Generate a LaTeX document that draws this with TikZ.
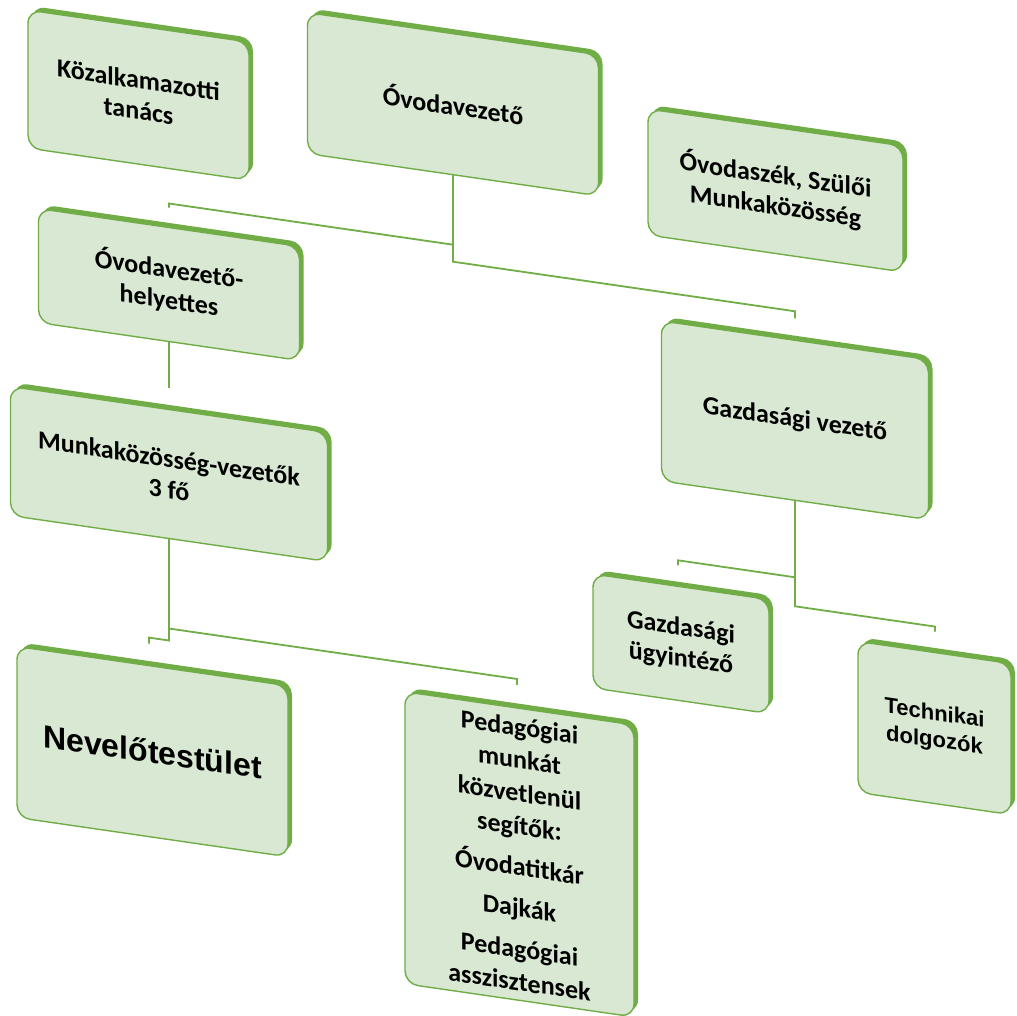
\documentclass[tikz,border=0pt]{standalone}
\usepackage{fontspec}
\setmainfont{Carlito}
\newfontfamily\arialfont{Liberation Sans}
\usetikzlibrary{shadows}
\definecolor{gfill}{RGB}{217,232,210}
\definecolor{gline}{RGB}{112,173,71}
\begin{document}
\begin{tikzpicture}[x=1pt,y=-1pt,
  orgbox/.style={draw=gline, line width=1.4pt, fill=gfill, rounded corners=13pt,
    align=center, inner sep=0pt, text=black,
    font=\fontsize{26}{31}\selectfont\bfseries,
    general shadow={shadow xshift=4pt, shadow yshift=4pt, fill=gline}},
  conn/.style={draw=gline, line width=1.8pt}]
\fill[white] (0,0) rectangle (1017,1015);
\useasboundingbox (0,0) rectangle (1017,1015);
\begin{scope}[yslant=-0.145, transform shape]
\node[orgbox, minimum width=221pt, minimum height=138pt] (kt) at (138.5,75) {Közalkamazotti\\tanács};
\node[orgbox, minimum width=291pt, minimum height=141pt] (ov) at (453,38.5) {Óvodavezető};
\node[orgbox, minimum width=255pt, minimum height=126pt] (osz) at (775.5,78) {Óvodaszék, Szülői\\Munkaközösség};
\node[orgbox, minimum width=261pt, minimum height=114pt] (ovh) at (169,260) {Óvodavezető-\\helyettes};
\node[orgbox, minimum width=317pt, minimum height=129pt] (mk) at (169,449.5) {Munkaközösség-vezetők\\3 fő};
\node[orgbox, minimum width=267pt, minimum height=160pt] (gv) at (795,305) {Gazdasági vezető};
\node[orgbox, minimum width=176pt, minimum height=114pt] (gu) at (681,545) {Gazdasági\\ügyintéző};
\node[orgbox, minimum width=153pt, minimum height=151pt, font=\arialfont\fontsize{22}{27}\selectfont\bfseries] (tech) at (934.5,592.5) {Technikai\\dolgozók};
\node[orgbox, minimum width=271pt, minimum height=171pt, font=\arialfont\fontsize{32}{38}\selectfont\bfseries] (nev) at (152.5,729.5) {Nevelőtestület};
\node[orgbox, minimum width=229pt, minimum height=292pt, font=\fontsize{26}{33}\selectfont\bfseries] (ped) at (519.5,779) {Pedagógiai\\munkát\\közvetlenül\\segítők:\\[8pt]Óvodatitkár\\[8pt]Dajkák\\[8pt]Pedagógiai\\asszisztensek};

\coordinate (ovhtop) at (169,183);
\coordinate (gvtop) at (795,203);
\coordinate (mktop) at (169,363);
\coordinate (nevtop) at (149,622);
\coordinate (pedtop) at (517,610);
\coordinate (gutop) at (678,467);
\coordinate (techtop) at (935,496);
\draw[conn] (ov.south) -- (453,179) -- (169,179) -- (ovhtop);
\draw[conn] (ov.south) -- (453,196) -- (795,196) -- (gvtop);
\draw[conn] (ovh.south) -- (mktop);
\draw[conn] (mk.south) -- (169,616) -- (149,616) -- (nevtop);
\draw[conn] (mk.south) -- (169,604) -- (517,604) -- (pedtop);
\draw[conn] (gv.south) -- (795,462) -- (678,462) -- (gutop);
\draw[conn] (gv.south) -- (795,491) -- (935,491) -- (techtop);
\end{scope}
\end{tikzpicture}
\end{document}
